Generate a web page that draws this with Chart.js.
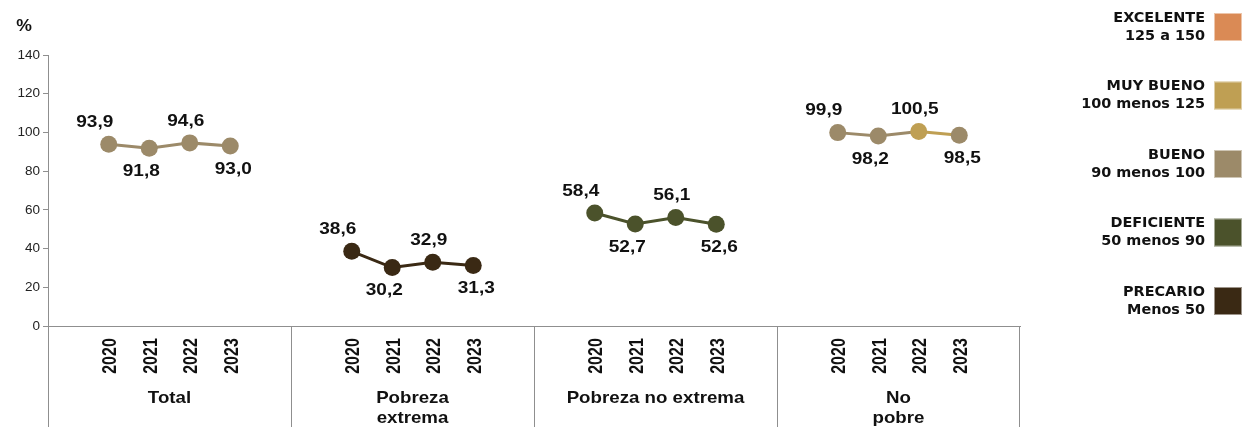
<!DOCTYPE html>
<html>
<head>
<meta charset="utf-8">
<script src="https://cdn.jsdelivr.net/npm/chart.js@4/dist/chart.umd.min.js"></script>
<style>
  html, body { margin: 0; padding: 0; background: #ffffff; }
  #wrap { width: 1251px; height: 427px; position: relative; }
</style>
</head>
<body>
<div id="wrap"><canvas id="c"></canvas></div>
<script>
// ---- data ----
const groupNames = ['Total', 'Pobreza extrema', 'Pobreza no extrema', 'No pobre'];
const groupLabelLines = [['Total'], ['Pobreza', 'extrema'], ['Pobreza no extrema'], ['No', 'pobre']];
const years = ['2020', '2021', '2022', '2023'];
const totalValues = [93.9, 91.8, 94.6, 93.0];
const pobrezaExtremaValues = [38.6, 30.2, 32.9, 31.3];
const pobrezaNoExtremaValues = [58.4, 52.7, 56.1, 52.6];
const noPobreValues = [99.9, 98.2, 100.5, 98.5];
const yTicks = [0, 20, 40, 60, 80, 100, 120, 140];

const legendNames = ['EXCELENTE', 'MUY BUENO', 'BUENO', 'DEFICIENTE', 'PRECARIO'];
const legendRanges = ['125 a 150', '100 menos 125', '90 menos 100', '50 menos 90', 'Menos 50'];
const legendLower = [125, 100, 90, 50, 0];
const legendColors = ['#DA8A55', '#BF9F53', '#9C8A69', '#4B522B', '#3A2914'];

// ---- build category slots: each group has an empty slot on either side ----
const seriesByGroup = [totalValues, pobrezaExtremaValues, pobrezaNoExtremaValues, noPobreValues];
const labels = [];
const values = [];
const slotInfo = [];
seriesByGroup.forEach((vals, g) => {
  labels.push(''); values.push(null); slotInfo.push(null);
  years.forEach((y, i) => {
    labels.push(groupNames[g] + ' ' + y);
    values.push(vals[i]);
    slotInfo.push({ group: g, idx: i, year: y });
  });
  labels.push(''); values.push(null); slotInfo.push(null);
});

function colorFor(v) {
  for (let i = 0; i < legendLower.length; i++) if (v >= legendLower[i]) return legendColors[i];
  return legendColors[legendColors.length - 1];
}

function stretchText(ctx, s, x, y, sx) {
  ctx.save();
  ctx.translate(x, y);
  ctx.scale(sx, 1);
  ctx.fillText(s, 0, 0);
  ctx.restore();
}

const AXIS_COLOR = '#8f8f8f';

const decorPlugin = {
  id: 'decor',
  afterDatasetsDraw(chart) {
    const ctx = chart.ctx;
    const xs = chart.scales.x;
    const area = chart.chartArea;
    const H = chart.height;
    const meta = chart.getDatasetMeta(0);

    // data labels
    const dxByIdx = [-14, -8, -4, 3];
    ctx.save();
    ctx.fillStyle = '#111';
    ctx.font = 'bold 17px "Liberation Sans", Arial, sans-serif';
    ctx.textAlign = 'center';
    ctx.textBaseline = 'middle';
    meta.data.forEach((pt, k) => {
      const info = slotInfo[k];
      if (!info) return;
      const v = values[k];
      const above = info.idx % 2 === 0;
      const y = pt.y + (above ? -22 : 23);
      const x = pt.x + dxByIdx[info.idx];
      stretchText(ctx, v.toFixed(1).replace('.', ','), x, y, 1.12);
    });
    ctx.restore();

    // axis extension and group separators
    ctx.save();
    ctx.strokeStyle = AXIS_COLOR;
    ctx.lineWidth = 1;
    const slotW = (area.right - area.left) / labels.length;
    ctx.beginPath();
    for (let g = 0; g <= groupNames.length; g++) {
      const x = Math.round(area.left + g * 6 * slotW) + 0.5 - (g === groupNames.length ? 1 : 0);
      ctx.moveTo(x, area.bottom);
      ctx.lineTo(x, H);
    }
    ctx.stroke();
    ctx.restore();

    // year labels (rotated)
    ctx.save();
    ctx.fillStyle = '#111';
    ctx.font = 'bold 16px "Liberation Sans", Arial, sans-serif';
    ctx.textAlign = 'center';
    ctx.textBaseline = 'alphabetic';
    slotInfo.forEach((info, k) => {
      if (!info) return;
      const x = xs.getPixelForValue(k);
      ctx.save();
      ctx.translate(x, 356);
      ctx.scale(1.25, 1);
      ctx.rotate(-Math.PI / 2);
      ctx.fillText(info.year, 0, 5.8);
      ctx.restore();
    });
    ctx.restore();

    // group labels
    ctx.save();
    ctx.fillStyle = '#111';
    ctx.font = 'bold 17px "Liberation Sans", Arial, sans-serif';
    ctx.textAlign = 'center';
    ctx.textBaseline = 'middle';
    groupLabelLines.forEach((lines, g) => {
      const cx = area.left + (g * 6 + 3) * slotW;
      lines.forEach((ln, j) => {
        stretchText(ctx, ln, cx, 398 + j * 20, 1.1);
      });
    });
    ctx.restore();

    // % label
    ctx.save();
    ctx.fillStyle = '#111';
    ctx.font = 'bold 16px "Liberation Sans", Arial, sans-serif';
    ctx.textAlign = 'center';
    ctx.textBaseline = 'middle';
    stretchText(ctx, '%', 24, 27, 1.1);
    ctx.restore();

    // legend
    ctx.save();
    ctx.font = 'bold 14px "DejaVu Sans", Verdana, sans-serif';
    ctx.textAlign = 'right';
    ctx.textBaseline = 'middle';
    legendNames.forEach((name, i) => {
      const top = 13 + i * 68.5;
      ctx.fillStyle = legendColors[i];
      ctx.fillRect(1214, top, 28, 28);
      ctx.strokeStyle = 'rgba(255,255,255,0.5)';
      ctx.lineWidth = 1;
      ctx.strokeRect(1214.5, top + 0.5, 27, 27);
      ctx.fillStyle = '#111';
      stretchText(ctx, name, 1205, top + 5, 1.03);
      stretchText(ctx, legendRanges[i], 1205, top + 23, 1.03);
    });
    ctx.restore();
  }
};

new Chart(document.getElementById('c'), {
  type: 'line',
  data: {
    labels: labels,
    datasets: [{
      data: values,
      spanGaps: false,
      borderWidth: 3,
      pointRadius: 8.5,
      pointHoverRadius: 8.5,
      pointBorderWidth: 0,
      pointBackgroundColor: (c) => colorFor(c.raw),
      pointBorderColor: (c) => colorFor(c.raw),
      borderColor: colorFor(93),
      segment: {
        borderColor: (c) => colorFor(c.p0.parsed.y)
      },
      tension: 0
    }]
  },
  options: {
    responsive: true,
    maintainAspectRatio: false,
    animation: false,
    events: [],
    layout: { padding: { left: 0, top: 55, right: 231, bottom: 101 } },
    plugins: {
      legend: { display: false },
      tooltip: { enabled: false },
      title: { display: false }
    },
    scales: {
      x: {
        type: 'category',
        offset: true,
        ticks: { display: false },
        grid: { display: false },
        border: { display: true, color: AXIS_COLOR, width: 1 },
        afterFit: (s) => { s.height = 0; }
      },
      y: {
        min: 0,
        max: 140,
        afterBuildTicks: (s) => { s.ticks = yTicks.map(v => ({ value: v })); },
        ticks: {
          color: '#222',
          font: { family: '"Liberation Sans", Arial, sans-serif', size: 13.5 },
          padding: 3
        },
        grid: { display: true, drawOnChartArea: false, drawTicks: true, tickLength: 5, color: AXIS_COLOR },
        border: { display: true, color: AXIS_COLOR, width: 1 },
        afterFit: (s) => { s.width = 48; }
      }
    }
  },
  plugins: [decorPlugin]
});
</script>
</body>
</html>
